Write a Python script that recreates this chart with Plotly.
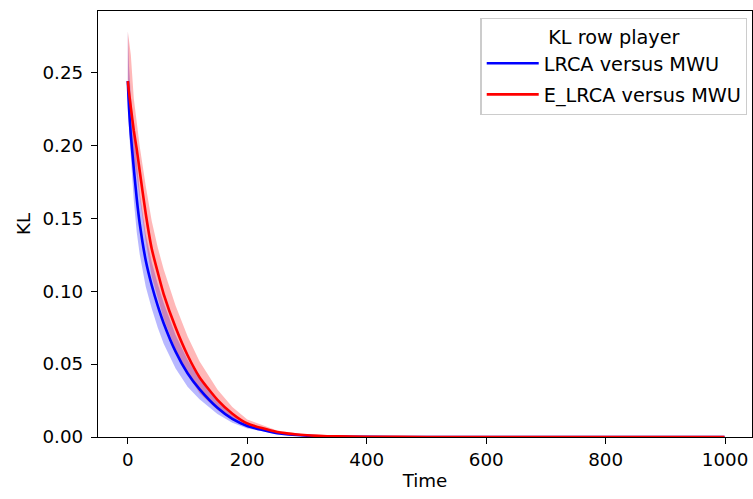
import plotly.graph_objects as go

# time sample points
time = [0, 2, 5, 10, 15, 20, 30, 40, 50, 60, 80, 100, 120, 150, 175, 200,
        250, 300, 350, 400, 500, 600, 700, 800, 900, 999]

# LRCA versus MWU
lrca_mean = [0.244, 0.225, 0.207, 0.184, 0.163, 0.146, 0.121, 0.104, 0.090, 0.078,
             0.0585, 0.0437, 0.0328, 0.0200, 0.0124, 0.0076, 0.0026, 0.0009, 0.0003,
             0.0001, 0.00001, 0, 0, 0, 0, 0]
lrca_lower = [0.232, 0.210, 0.190, 0.162, 0.140, 0.125, 0.103, 0.088, 0.075, 0.064,
              0.047, 0.0345, 0.0258, 0.0157, 0.0097, 0.0059, 0.0020, 0.0007, 0.0002,
              0.00008, 0.00001, 0, 0, 0, 0, 0]
lrca_upper = [0.278, 0.254, 0.234, 0.210, 0.186, 0.167, 0.139, 0.120, 0.105, 0.092,
              0.070, 0.053, 0.040, 0.0243, 0.0151, 0.0093, 0.0032, 0.0011, 0.0004,
              0.00012, 0.00001, 0, 0, 0, 0, 0]

# E_LRCA versus MWU
elrca_mean = [0.244, 0.236, 0.226, 0.210, 0.197, 0.182, 0.153, 0.129, 0.113, 0.098,
              0.075, 0.056, 0.041, 0.0255, 0.0160, 0.0093, 0.0034, 0.0012, 0.0004,
              0.00015, 0.00002, 0, 0, 0, 0, 0]
elrca_lower = [0.232, 0.212, 0.204, 0.190, 0.179, 0.165, 0.134, 0.110, 0.096, 0.081,
               0.060, 0.043, 0.030, 0.0185, 0.0115, 0.0066, 0.0023, 0.0008, 0.0003,
               0.0001, 0.00001, 0, 0, 0, 0, 0]
elrca_upper = [0.278, 0.272, 0.262, 0.232, 0.215, 0.199, 0.172, 0.148, 0.130, 0.115,
               0.090, 0.069, 0.052, 0.0325, 0.0205, 0.0120, 0.0045, 0.0016, 0.0005,
               0.0002, 0.00003, 0, 0, 0, 0, 0]

x_ticks = [0, 200, 400, 600, 800, 1000]
y_ticks = [0.00, 0.05, 0.10, 0.15, 0.20, 0.25]

FONT = "DejaVu Sans"
TICK_SIZE = 18.3
LEG_SIZE = 19.3

fig = go.Figure()

def band(lower, upper, color):
    return go.Scatter(
        x=time + time[::-1], y=upper + lower[::-1],
        fill="toself", fillcolor=color, line=dict(width=0),
        mode="lines", showlegend=False, hoverinfo="skip")

fig.add_trace(band(lrca_lower, lrca_upper, "rgba(0,0,255,0.28)"))
fig.add_trace(band(elrca_lower, elrca_upper, "rgba(255,0,0,0.28)"))
fig.add_trace(go.Scatter(x=time, y=lrca_mean, mode="lines", name="LRCA versus MWU",
                         legendgroup="a",
                         line=dict(color="#0000ff", width=2.6, shape="spline", smoothing=0.6)))
fig.add_trace(go.Scatter(x=time, y=elrca_mean, mode="lines", name="E_LRCA versus MWU",
                         legendgroup="b",
                         line=dict(color="#ff0000", width=2.6, shape="spline", smoothing=0.6)))

axis_common = dict(showgrid=False, zeroline=False, showline=True, linecolor="black",
                   linewidth=1.3, mirror=True, ticks="outside", ticklen=6, tickwidth=1.3,
                   tickcolor="black",
                   tickfont=dict(family=FONT, size=TICK_SIZE, color="black"))

fig.update_xaxes(range=[-49.95, 1045], tickvals=x_ticks,
                 ticktext=[str(v) for v in x_ticks],
                 title=dict(text="Time", font=dict(family=FONT, size=TICK_SIZE, color="black"),
                            standoff=5),
                 **axis_common)
fig.update_yaxes(range=[0, 0.292], tickvals=y_ticks,
                 ticktext=[f"{v:.2f}" for v in y_ticks],
                 ticklabelstandoff=4,
                 title=dict(text="KL", font=dict(family=FONT, size=TICK_SIZE, color="black"),
                            standoff=7),
                 **axis_common)

fig.update_layout(
    width=753, height=499,
    margin=dict(l=98, r=1, t=11, b=62),
    plot_bgcolor="white", paper_bgcolor="white",
    font=dict(family=FONT, size=TICK_SIZE, color="black"),
    legend=dict(
        title=dict(text="KL row player", side="top center",
                   font=dict(family=FONT, size=LEG_SIZE, color="black")),
        x=0.993, y=0.984, xanchor="right", yanchor="top",
        bgcolor="rgba(255,255,255,0.8)", bordercolor="#cccccc", borderwidth=1.3,
        font=dict(family=FONT, size=LEG_SIZE, color="black"),
        tracegroupgap=3, itemwidth=52,
    ),
)

fig.write_html("out.html")
